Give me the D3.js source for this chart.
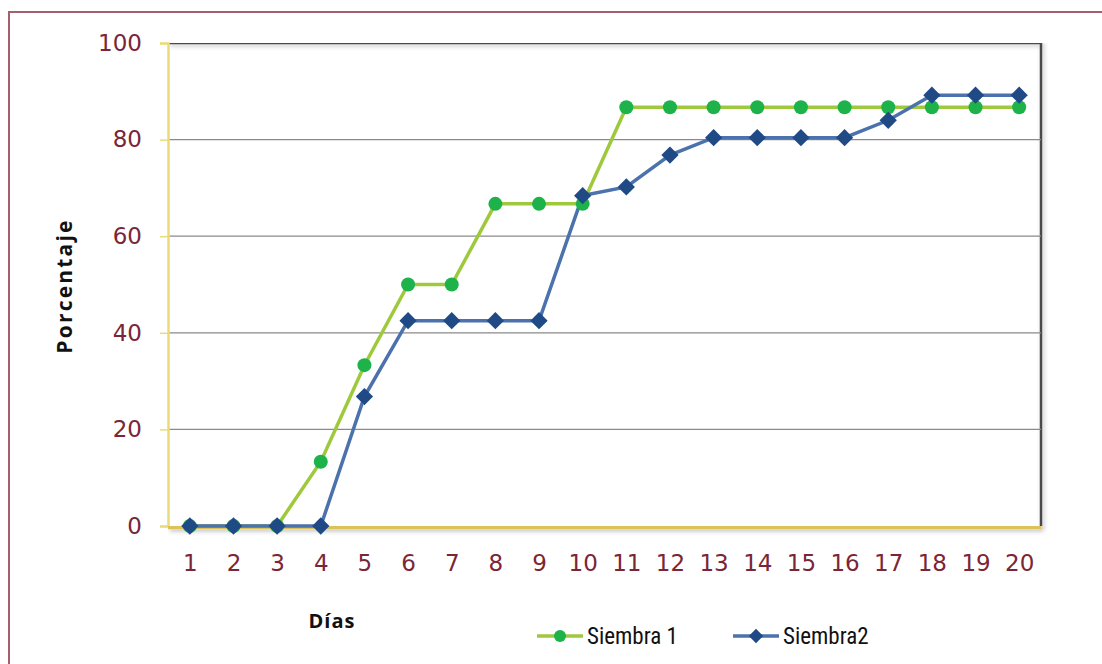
<!DOCTYPE html>
<html>
<head>
<meta charset="utf-8">
<script src="https://cdn.jsdelivr.net/npm/d3@7"></script>
<style>
  body { margin: 0; background: #fff; }
  svg { display: block; }
</style>
</head>
<body>
<div id="chart"></div>
<script>
const days = ["1","2","3","4","5","6","7","8","9","10","11","12","13","14","15","16","17","18","19","20"];
const siembra1 = [0, 0, 0, 13.3, 33.3, 50, 50, 66.7, 66.7, 66.7, 86.7, 86.7, 86.7, 86.7, 86.7, 86.7, 86.7, 86.7, 86.7, 86.7];
const siembra2 = [0, 0, 0, 0, 26.8, 42.5, 42.5, 42.5, 42.5, 68.4, 70.2, 76.8, 80.4, 80.4, 80.4, 80.4, 84, 89.2, 89.2, 89.2];
const yTicks = [0, 20, 40, 60, 80, 100];

const W = 1102, H = 664;
const margin = { top: 43, right: 61, bottom: 138, left: 168 };
const width = W - margin.left - margin.right;
const height = H - margin.top - margin.bottom;

const svg = d3.select("#chart").append("svg").attr("width", W).attr("height", H);

const defs = svg.append("defs");
const shadow = defs.append("filter").attr("id", "shadow")
    .attr("filterUnits", "userSpaceOnUse")
    .attr("x", 0).attr("y", 0).attr("width", W).attr("height", H);
shadow.append("feDropShadow").attr("dx", 2).attr("dy", 2).attr("stdDeviation", 2)
    .attr("flood-color", "#000").attr("flood-opacity", 0.25);

// outer frame
svg.append("rect")
    .attr("x", 9).attr("y", 12).attr("width", 1100).attr("height", 660)
    .attr("fill", "none").attr("stroke", "#a5606e").attr("stroke-width", 2);

const g = svg.append("g").attr("transform", `translate(${margin.left},${margin.top})`);

const x = d3.scalePoint().domain(days).range([0, width]).padding(0.5);
const y = d3.scaleLinear().domain([0, 100]).range([height, 0]);

// plot frame (top + right dark edge with shadow)
g.append("path")
    .attr("d", `M0,0H${width}V${height}`)
    .attr("fill", "none").attr("stroke", "#4a4a4a").attr("stroke-width", 2.5)
    .attr("filter", "url(#shadow)");

// gridlines
g.append("g")
    .selectAll("line")
    .data(yTicks.filter(d => d > 0 && d < 100))
    .join("line")
    .attr("x1", 0).attr("x2", width)
    .attr("y1", d => y(d)).attr("y2", d => y(d))
    .attr("stroke", "#8a8a8a").attr("stroke-width", 1.3);

// y axis
const yAxis = g.append("g").call(d3.axisLeft(y).tickValues(yTicks).tickSize(8).tickPadding(18));
yAxis.select(".domain").attr("stroke", "#eadb7a").attr("stroke-width", 2.5);
yAxis.selectAll(".tick line").attr("stroke", "#eadb7a").attr("stroke-width", 1.5);
yAxis.selectAll(".tick text")
    .attr("fill", "#7a2636").attr("font-family", "'DejaVu Sans', sans-serif")
    .attr("font-size", 23);

// x axis
const xAxis = g.append("g").attr("transform", `translate(0,${height})`)
    .call(d3.axisBottom(x).tickSize(0).tickPadding(29));
xAxis.select(".domain").remove();
xAxis.append("line")
    .attr("x1", 0).attr("x2", width).attr("y1", 1).attr("y2", 1)
    .attr("stroke", "#dcc258").attr("stroke-width", 4.5)
    .attr("filter", "url(#shadow)");
xAxis.selectAll(".tick text")
    .attr("fill", "#7a2636").attr("font-family", "'DejaVu Sans', sans-serif")
    .attr("font-size", 23);

// axis titles
svg.append("text")
    .attr("transform", "translate(72,286) rotate(-90)")
    .attr("text-anchor", "middle")
    .attr("font-family", "'Open Sans', sans-serif").attr("font-weight", 700).attr("font-size", 21)
    .attr("letter-spacing", 2.2)
    .attr("fill", "#111").text("Porcentaje");

svg.append("text")
    .attr("x", 332).attr("y", 628)
    .attr("text-anchor", "middle")
    .attr("font-family", "'Open Sans', sans-serif").attr("font-weight", 700).attr("font-size", 20)
    .attr("letter-spacing", 1)
    .attr("fill", "#111").text("Días");

// series
const line = d3.line().x((d, i) => x(days[i])).y(d => y(d));

g.append("path").datum(siembra1)
    .attr("d", line).attr("fill", "none")
    .attr("stroke", "#9fc93c").attr("stroke-width", 3.5);

g.append("path").datum(siembra2)
    .attr("d", line).attr("fill", "none")
    .attr("stroke", "#4b72ad").attr("stroke-width", 3.5);

g.append("g").selectAll("circle")
    .data(siembra1)
    .join("circle")
    .attr("cx", (d, i) => x(days[i])).attr("cy", d => y(d))
    .attr("r", 7).attr("fill", "#1db24a");

const diamond = d3.symbol().type(d3.symbolDiamond2).size(190);
g.append("g").selectAll("path")
    .data(siembra2)
    .join("path")
    .attr("d", diamond)
    .attr("transform", (d, i) => `translate(${x(days[i])},${y(d)})`)
    .attr("fill", "#1f4a86");

// legend
const legendItems = [
    { label: "Siembra 1", x: 537, color: "#9fc93c", mark: "#1db24a", type: "circle" },
    { label: "Siembra2", x: 733, color: "#4b72ad", mark: "#1f4a86", type: "diamond" },
];
const legend = svg.append("g").attr("transform", "translate(0,636)");
legendItems.forEach(it => {
    legend.append("line")
        .attr("x1", it.x).attr("x2", it.x + 46).attr("y1", 0).attr("y2", 0)
        .attr("stroke", it.color).attr("stroke-width", 3.5);
    if (it.type === "circle") {
        legend.append("circle").attr("cx", it.x + 23).attr("cy", 0).attr("r", 6).attr("fill", it.mark);
    } else {
        legend.append("path").attr("d", d3.symbol().type(d3.symbolDiamond2).size(130))
            .attr("transform", `translate(${it.x + 23},0)`).attr("fill", it.mark);
    }
    legend.append("text")
        .attr("x", it.x + 50).attr("y", 8)
        .attr("font-family", "'Liberation Sans Narrow', 'Roboto Condensed', 'Roboto', sans-serif")
        .attr("font-size", 23)
        .attr("fill", "#111").text(it.label);
});
</script>
</body>
</html>
